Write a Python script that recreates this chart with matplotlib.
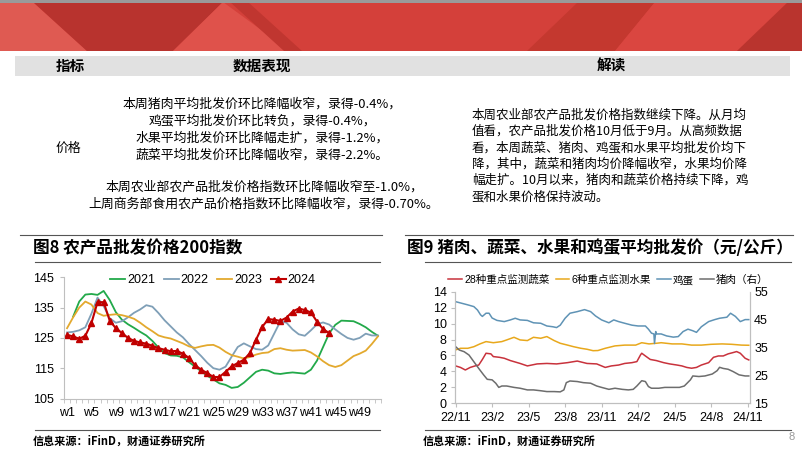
import numpy as np
import matplotlib
matplotlib.use("Agg")
import matplotlib.pyplot as plt
from matplotlib.patches import Polygon, Rectangle

plt.rcParams["font.family"] = ["Liberation Sans", "Noto Sans CJK SC", "DejaVu Sans"]
CJK = ["Noto Sans CJK SC", "DejaVu Sans"]

# ---------------- data: chart 8 (weekly index) ----------------
weeks = list(range(1, 53))
week_labels = [f"w{k}" for k in range(1, 53, 4)]

idx_2021 = [np.nan, 132.0, 137.0, 139.3, 139.5, 139.2, 140.5, 137.5, 133.5, 131.0,
            129.5, 128.3, 127.0, 125.8, 124.0, 121.8, 120.0, 119.2, 119.1, 118.6,
            117.0, 115.5, 114.0, 112.5, 111.3, 110.0, 109.5, 108.5, 108.8, 110.2,
            112.0, 113.8, 114.5, 114.2, 113.3, 113.1, 113.4, 113.6, 113.4, 113.2,
            114.5, 117.5, 122.0, 126.5, 129.3, 130.7, 130.6, 130.5, 129.6, 128.5,
            127.0, 125.7]
idx_2022 = [126.8, 127.0, 127.5, 128.5, 133.0, 138.3, 135.5, 131.5, 130.0, 130.5,
            131.8, 133.3, 134.4, 135.8, 135.3, 133.2, 130.8, 128.8, 126.8, 125.2,
            123.0, 121.0, 119.0, 116.8, 115.0, 114.5, 115.5, 118.8, 122.0, 123.2,
            122.2, 121.3, 121.1, 122.5, 126.5, 130.5, 130.0, 127.8, 126.2, 125.7,
            127.5, 129.5, 130.1, 129.4, 127.8, 126.3, 125.0, 124.4, 125.0, 126.4,
            125.8, 125.8]
idx_2023 = [128.2, 131.8, 135.0, 137.0, 136.0, 133.2, 132.3, 132.6, 132.8, 132.5,
            132.0, 131.3, 130.0, 128.5, 127.2, 125.8, 125.2, 124.8, 124.0, 123.2,
            122.2, 121.7, 122.2, 122.6, 122.7, 121.8, 120.4, 119.3, 118.8, 118.2,
            118.7, 119.5, 120.0, 120.2, 121.3, 121.6, 121.1, 120.8, 120.9, 121.0,
            120.2, 118.9, 117.3, 116.0, 115.4, 116.0, 117.5, 119.0, 119.8, 120.8,
            123.0, 125.5]
idx_2024 = [126.0, 125.5, 124.7, 125.7, 129.9, 136.8, 136.8, 130.7, 128.2, 126.6,
            125.0, 124.0, 123.5, 123.1, 122.4, 121.6, 121.1, 120.6, 120.7, 119.8,
            118.4, 116.0, 114.5, 113.4, 112.1, 112.1, 113.8, 115.6, 116.7, 117.8,
            120.0, 124.4, 128.6, 131.2, 131.0, 130.6, 131.7, 133.7, 134.7, 134.2,
            133.4, 130.4, 127.9, 126.6]

# ---------------- data: chart 9 (months since 2022-11) ----------------
month_ticks = list(range(0, 25, 3))
month_labels = ["22/11", "23/2", "23/5", "23/8", "23/11", "24/2", "24/5", "24/8", "24/11"]

veg_t = [0, 0.4, 0.8, 1.2, 1.6, 1.9, 2.2, 2.5, 2.9, 3.1, 3.6, 4.0, 4.5, 5.3, 5.9,
         6.7, 7.5, 8.3, 9.2, 10.0, 10.8, 11.6, 12.0, 12.3, 12.8, 13.4, 13.9, 14.5,
         14.9, 15.2, 15.3, 15.6, 16.0, 16.5, 17.1, 17.6, 18.2, 18.6, 19.0, 19.4,
         19.8, 20.2, 20.8, 21.2, 21.6, 22.0, 22.4, 22.8, 23.1, 23.4, 23.8, 24.1]
veg = [4.69, 4.5, 4.18, 4.5, 4.69, 4.8, 5.5, 6.28, 6.2, 5.86, 5.77, 5.65, 5.36, 5.0,
       4.69, 4.94, 5.0, 4.94, 5.1, 5.3, 5.0, 4.94, 4.69, 4.5, 4.69, 4.8, 5.0, 5.1,
       5.23, 6.07, 6.28, 5.94, 5.5, 5.36, 5.1, 4.94, 4.8, 4.69, 4.5, 4.4, 4.5, 4.8,
       5.1, 5.77, 5.94, 5.94, 6.2, 6.36, 6.49, 6.28, 5.65, 5.44]

fruit_t = [0, 0.4, 1.0, 1.5, 2.0, 2.5, 3.1, 3.8, 4.2, 4.8, 5.3, 5.9, 6.4, 7.0, 7.5,
           8.1, 8.6, 9.2, 9.7, 10.3, 10.8, 11.3, 11.7, 12.3, 13.1, 13.9, 14.8, 15.3,
           15.9, 16.5, 16.9, 17.8, 18.6, 19.4, 20.2, 21.0, 21.9, 22.7, 23.5, 24.1]
fruit = [6.7, 6.9, 6.9, 7.1, 7.45, 7.74, 7.6, 7.74, 7.95, 8.28, 7.95, 7.87, 8.28, 8.16,
         8.37, 7.87, 7.53, 7.3, 7.1, 6.9, 6.78, 6.6, 6.62, 6.9, 7.2, 7.3, 7.3, 7.6,
         7.45, 7.53, 7.6, 7.45, 7.45, 7.3, 7.3, 7.4, 7.45, 7.4, 7.3, 7.28]

egg_t = [0, 0.5, 1.0, 1.5, 1.8, 2.05, 2.2, 2.5, 2.75, 3.0, 3.4, 4.0, 4.5, 4.9, 5.3,
         5.9, 6.4, 7.0, 7.5, 8.0, 8.3, 8.6, 9.0, 9.4, 10.0, 10.6, 11.1, 11.5, 12.0,
         12.6, 13.0, 13.4, 13.9, 14.5, 15.0, 15.6, 15.85, 16.1, 16.3, 16.35, 16.45,
         16.5, 16.9, 17.35, 17.9, 18.3, 18.7, 19.1, 19.5, 19.8, 20.2, 20.8, 21.3,
         21.7, 22.3, 22.6, 23.0, 23.4, 23.8, 24.1]
egg = [12.75, 12.55, 12.35, 12.13, 11.7, 11.1, 10.9, 11.3, 11.3, 10.7, 10.4, 10.25,
       10.46, 10.67, 10.46, 10.4, 10.1, 10.04, 9.7, 9.6, 9.5, 9.8, 10.67, 11.3, 11.5,
       11.75, 11.5, 10.96, 10.46, 10.1, 10.46, 10.25, 10.04, 9.8, 9.7, 9.7, 9.3, 8.8,
       8.7, 7.5, 9.0, 8.7, 8.7, 8.45, 8.3, 8.37, 9.0, 9.3, 9.1, 8.9, 9.6, 10.25, 10.5,
       10.67, 10.8, 11.3, 10.9, 10.25, 10.5, 10.5]

pork_t = [0, 0.3, 0.7, 1.1, 1.5, 1.9, 2.3, 2.6, 3.0, 3.3, 3.55, 3.8, 4.2, 4.8, 5.3,
          5.9, 6.4, 7.0, 7.5, 8.1, 8.6, 8.9, 9.1, 9.4, 10.0, 10.5, 11.1, 11.6, 12.0,
          12.6, 13.1, 13.7, 14.2, 14.6, 14.9, 15.3, 15.6, 15.85, 16.1, 16.7, 17.2,
          17.8, 18.4, 18.8, 19.3, 19.5, 20.0, 20.5, 21.1, 21.5, 21.7, 22.0, 22.4,
          22.8, 23.3, 23.8, 24.1]
pork = [35.3, 34.1, 33.5, 32.3, 29.9, 27.5, 25.2, 23.6, 23.4, 22.2, 20.7, 21.2, 21.2,
        20.7, 20.4, 19.8, 19.8, 19.5, 19.2, 19.2, 19.1, 19.8, 22.4, 23.0, 22.8, 22.4,
        22.2, 21.2, 20.7, 20.0, 20.4, 20.0, 19.8, 20.0, 21.2, 23.1, 22.8, 21.0, 20.4,
        20.4, 20.7, 20.7, 20.7, 21.2, 23.4, 24.8, 24.6, 24.8, 25.5, 26.7, 27.9, 27.5,
        27.2, 26.4, 25.2, 24.8, 24.8]

# ---------------- text ----------------
left_lines = ["本周猪肉平均批发价环比降幅收窄，录得-0.4%，",
              "鸡蛋平均批发价环比转负，录得-0.4%，",
              "水果平均批发价环比降幅走扩，录得-1.2%，",
              "蔬菜平均批发价环比降幅收窄，录得-2.2%。"]
left_lines2 = ["本周农业部农产品批发价格指数环比降幅收窄至-1.0%，",
               "上周商务部食用农产品价格指数环比降幅收窄，录得-0.70%。"]
right_lines = ["本周农业部农产品批发价格指数继续下降。从月均",
               "值看，农产品批发价格10月低于9月。从高频数据",
               "看，本周蔬菜、猪肉、鸡蛋和水果平均批发价均下",
               "降，其中，蔬菜和猪肉均价降幅收窄，水果均价降",
               "幅走扩。10月以来，猪肉和蔬菜价格持续下降，鸡",
               "蛋和水果价格保持波动。"]

W, H = 802, 451
fig = plt.figure(figsize=(W / 100, H / 100), dpi=100)
fig.patch.set_facecolor("white")

# background layer in pixel coordinates
bg = fig.add_axes([0, 0, 1, 1], zorder=0)
bg.set_xlim(0, W)
bg.set_ylim(H, 0)
bg.axis("off")

# red banner
bg.add_patch(Rectangle((0, 0), W, 51, color="#d4403a", lw=0))
bg.add_patch(Polygon([(0, 2), (33, 2), (87, 51), (0, 51)], color="#df5a52", lw=0))
bg.add_patch(Polygon([(33, 2), (223, 2), (173, 51), (87, 51)], color="#b8332e", lw=0))
bg.add_patch(Polygon([(223, 2), (173, 51), (290, 51)], color="#df524b", lw=0))
bg.add_patch(Polygon([(230, 2), (248, 2), (302, 51), (284, 51)], color="#c03630", lw=0))
bg.add_patch(Polygon([(578, 2), (655, 2), (615, 51), (527, 51)], color="#c4382f", lw=0))
bg.add_patch(Polygon([(655, 2), (788, 2), (737, 51), (615, 51)], color="#da4640", lw=0))
bg.add_patch(Polygon([(788, 2), (802, 2), (802, 51), (737, 51)], color="#b9342e", lw=0))
bg.add_patch(Rectangle((0, 0), W, 2.5, color="#9a9a9a", lw=0))

# table header
bg.add_patch(Rectangle((15, 56), 775, 20, color="#e1e1e1", lw=0))
bg.text(70, 66, "指标", family=CJK, fontsize=10.5, weight="bold", ha="center", va="center")
bg.text(262, 66, "数据表现", family=CJK, fontsize=10.5, weight="bold", ha="center", va="center")
bg.text(611, 66, "解读", family=CJK, fontsize=10.5, weight="bold", ha="center", va="center")

bg.text(68, 148, "价格", family=CJK, fontsize=9.3, ha="center", va="center")
for i, s in enumerate(left_lines):
    bg.text(262, 104 + i * 17, s, family=CJK, fontsize=9.3, ha="center", va="center")
for i, s in enumerate(left_lines2):
    bg.text(264, 187 + i * 17, s, family=CJK, fontsize=9.3, ha="center", va="center")
for i, s in enumerate(right_lines):
    bg.text(472, 115 + i * 16.4, s, family=CJK, fontsize=9.0, ha="left", va="center")

# chart frames, titles and sources
for x0, x1, xs in [(20, 382, 35), (405, 793, 425)]:
    bg.plot([x0, x1], [235, 235], color="#555555", lw=0.8)
    bg.plot([xs, x1 - 2], [261.5, 261.5], color="#555555", lw=0.8)
    bg.plot([xs, x1 - 2], [430, 430], color="#555555", lw=0.8)
    bg.text(xs - 2, 441, "信息来源：iFinD，财通证券研究所", family=CJK, fontsize=8,
            weight="bold", ha="left", va="center")
bg.text(33, 248, "图8 农产品批发价格200指数", family=CJK, fontsize=12, weight="bold",
        ha="left", va="center")
bg.text(407, 248, "图9 猪肉、蔬菜、水果和鸡蛋平均批发价（元/公斤）", family=CJK, fontsize=12,
        weight="bold", ha="left", va="center")
bg.text(792, 437, "8", fontsize=8, color="#9a9a9a", ha="center", va="center")

AXIS_C = "#bfbfbf"

# ---------------- chart 8 ----------------
ax1 = fig.add_axes([64 / W, 1 - 398.5 / H, 317 / W, 121.2 / H], zorder=2)
ax1.patch.set_alpha(0)
ax1.plot(weeks, idx_2021, color="#22a94a", lw=1.3, label="2021")
ax1.plot(weeks, idx_2022, color="#7f9fb7", lw=1.3, label="2022")
ax1.plot(weeks, idx_2023, color="#e3a92e", lw=1.3, label="2023")
ax1.plot(weeks[:len(idx_2024)], idx_2024, color="#c00000", lw=1.5, marker="^",
         markersize=3.8, label="2024")
ax1.set_xlim(0.5, 52.5)
ax1.set_ylim(105, 145)
ax1.set_yticks([105, 115, 125, 135, 145])
ax1.set_xticks(range(1, 53, 4))
ax1.set_xticklabels(week_labels)
ax1.set_xticks(np.arange(0.5, 53, 1), minor=True)
ax1.tick_params(axis="x", which="major", length=0, pad=6, labelsize=9)
ax1.tick_params(axis="x", which="minor", length=3, color=AXIS_C)
ax1.tick_params(axis="y", length=3, color=AXIS_C, labelsize=9, pad=4)
for side in ["top", "right"]:
    ax1.spines[side].set_visible(False)
for side in ["left", "bottom"]:
    ax1.spines[side].set_color(AXIS_C)
ax1.legend(loc="center", bbox_to_anchor=(0.47, 0.975), ncol=4, frameon=False,
           fontsize=9, handlelength=1.2, handletextpad=0.15, columnspacing=0.7,
           borderpad=0)

# ---------------- chart 9 ----------------
ax2 = fig.add_axes([455 / W, 1 - 403.3 / H, 295 / W, 111.6 / H], zorder=2)
ax2.patch.set_alpha(0)
ax3 = ax2.twinx()
l1, = ax2.plot(veg_t, veg, color="#c8323c", lw=1.1, label="28种重点监测蔬菜")
l2, = ax2.plot(fruit_t, fruit, color="#e8a81c", lw=1.1, label="6种重点监测水果")
l3, = ax2.plot(egg_t, egg, color="#5f93b5", lw=1.1, label="鸡蛋")
l4, = ax3.plot(pork_t, pork, color="#6d6d6d", lw=1.1, label="猪肉（右）")
ax2.set_xlim(-0.05, 24.2)
ax2.set_ylim(0, 14)
ax2.set_yticks(range(0, 15, 2))
ax3.set_ylim(15, 55)
ax3.set_yticks([15, 25, 35, 45, 55])
ax2.set_xticks(month_ticks)
ax2.set_xticklabels(month_labels)
ax2.tick_params(axis="x", length=3, color=AXIS_C, labelsize=9, pad=3)
ax2.tick_params(axis="y", length=3, color=AXIS_C, labelsize=9, pad=3)
ax3.tick_params(axis="y", length=0, labelsize=9, pad=3)
for a in (ax2, ax3):
    a.spines["top"].set_visible(False)
    for side in ["left", "right", "bottom"]:
        a.spines[side].set_color(AXIS_C)
ax2.legend(handles=[l1, l2, l3, l4], loc="center", bbox_to_anchor=(0.52, 1.105),
           ncol=4, frameon=False, fontsize=7.6, handlelength=1.3, handletextpad=0.2,
           columnspacing=0.6, borderpad=0)

fig.savefig("out.png", dpi=100)
